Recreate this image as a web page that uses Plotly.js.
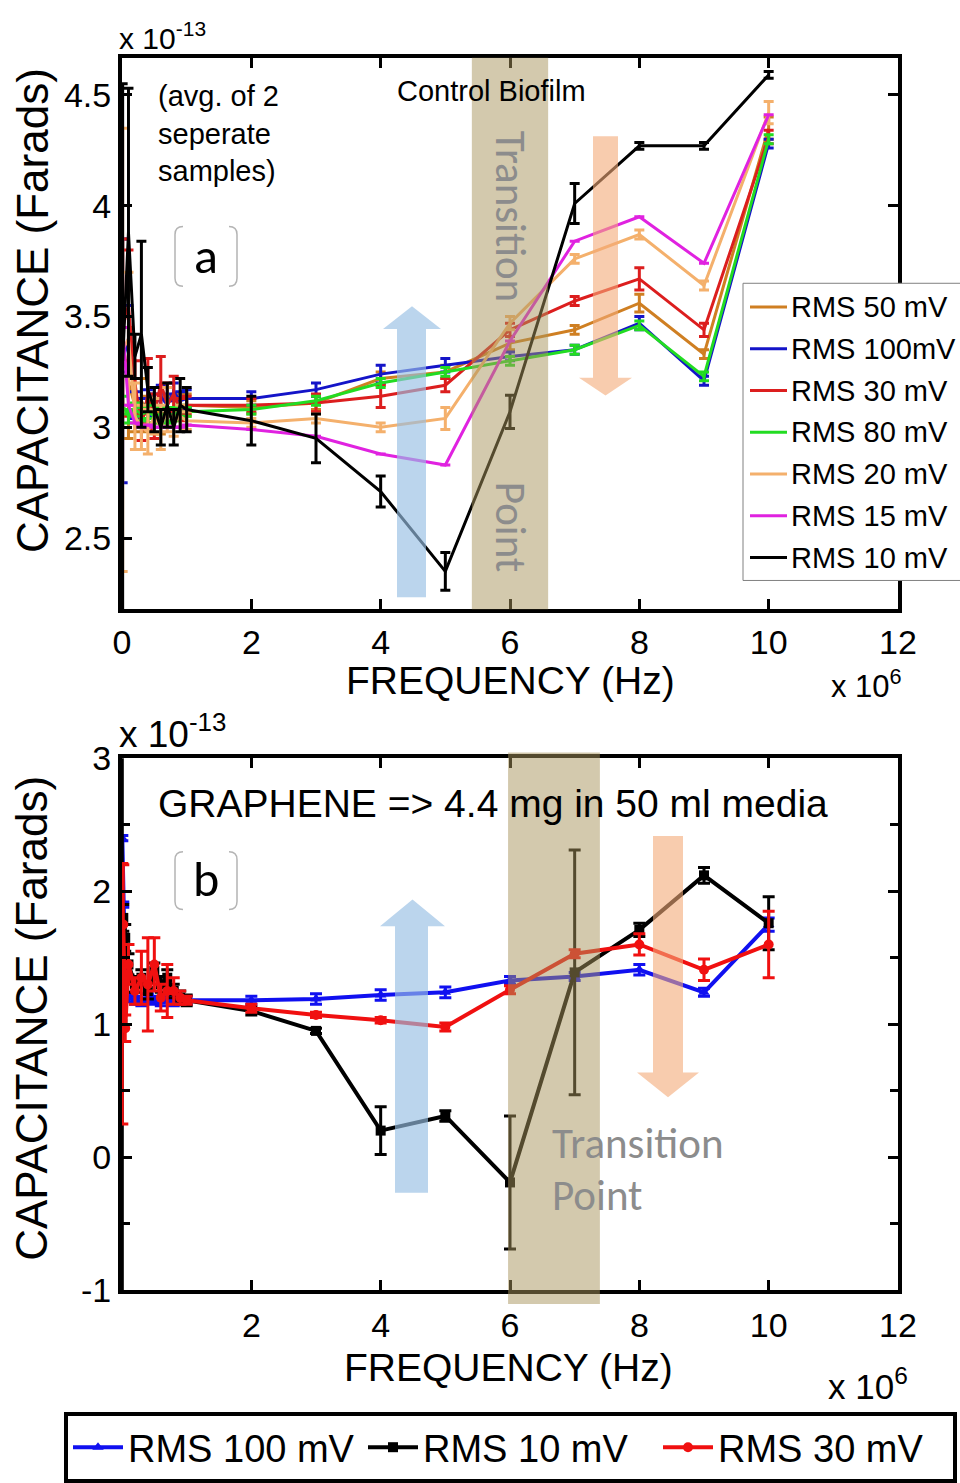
<!DOCTYPE html>
<html><head><meta charset="utf-8">
<script src="https://cdn.plot.ly/plotly-3.0.1.min.js"></script>
<style>html,body{margin:0;padding:0;background:#fff;} #chart{width:960px;height:1483px;}</style>
</head><body><div id="chart"></div>
<script>
// ---------- DATA (frequency in units of 10^6 Hz, capacitance in units of 10^-13 F) ----------
// (a) Control biofilm
const freqA = [0.01, 0.1, 0.2, 0.3, 0.4, 0.5, 0.6, 0.7, 0.8, 0.9, 1, 2, 3, 4, 5, 6, 7, 8, 9, 10];
const namesA = ["RMS 50 mV", "RMS 100mV", "RMS 30 mV", "RMS 80 mV", "RMS 20 mV", "RMS 15 mV", "RMS 10 mV"];
const colorsA = ["#cf7f22", "#1414c8", "#dc1e1e", "#22dc22", "#f4b06c", "#e022e0", "#000000"];
const rms50  = [3.40, 3.20, 3.10, 3.12, 3.06, 3.10, 3.05, 3.08, 3.06, 3.10, 3.10, 3.09, 3.11, 3.22, 3.25, 3.38, 3.44, 3.56, 3.33, 4.35];
const err50  = [0.45, 0.25, 0.12, 0.10, 0.08, 0.08, 0.08, 0.06, 0.06, 0.05, 0.05, 0.03, 0.03, 0.03, 0.03, 0.03, 0.02, 0.04, 0.02, 0.05];
const rms100 = [3.30, 3.40, 3.10, 3.08, 3.12, 3.10, 3.14, 3.10, 3.16, 3.12, 3.13, 3.13, 3.17, 3.24, 3.28, 3.32, 3.35, 3.47, 3.21, 4.28];
const err100 = [0.55, 0.15, 0.06, 0.05, 0.05, 0.05, 0.05, 0.05, 0.04, 0.04, 0.04, 0.03, 0.03, 0.04, 0.03, 0.02, 0.02, 0.03, 0.02, 0.02];
const rms30  = [3.45, 3.55, 3.20, 3.00, 3.15, 3.05, 3.20, 3.10, 3.15, 3.08, 3.10, 3.10, 3.11, 3.14, 3.19, 3.44, 3.57, 3.67, 3.44, 4.31];
const err30  = [0.40, 0.25, 0.10, 0.06, 0.16, 0.10, 0.12, 0.10, 0.08, 0.05, 0.04, 0.03, 0.04, 0.05, 0.03, 0.03, 0.02, 0.05, 0.03, 0.03];
const rms80  = [3.10, 3.05, 3.08, 3.06, 3.07, 3.05, 3.06, 3.05, 3.06, 3.07, 3.07, 3.08, 3.12, 3.20, 3.25, 3.30, 3.35, 3.46, 3.23, 4.30];
const err80  = [0.04, 0.03, 0.03, 0.03, 0.03, 0.03, 0.03, 0.03, 0.03, 0.03, 0.02, 0.02, 0.02, 0.02, 0.02, 0.02, 0.02, 0.02, 0.02, 0.02];
const rms20  = [3.35, 3.40, 3.05, 3.00, 2.98, 3.05, 3.00, 3.08, 3.02, 3.05, 3.03, 3.02, 3.04, 3.00, 3.04, 3.47, 3.76, 3.87, 3.64, 4.42];
const err20  = [1.00, 0.30, 0.15, 0.10, 0.10, 0.08, 0.10, 0.10, 0.06, 0.05, 0.04, 0.02, 0.02, 0.02, 0.05, 0.03, 0.02, 0.02, 0.02, 0.05];
const rms15  = [3.45, 3.10, 3.02, 3.00, 3.01, 3.00, 3.00, 3.00, 3.00, 3.00, 3.01, 2.99, 2.96, 2.88, 2.83, 3.39, 3.84, 3.95, 3.74, 4.41];
const err15  = [0, 0, 0, 0, 0, 0, 0, 0, 0, 0, 0, 0, 0, 0, 0, 0, 0, 0, 0, 0];
const rms10  = [3.30, 3.88, 3.32, 3.42, 3.17, 3.08, 3.00, 3.10, 3.00, 3.10, 3.08, 3.03, 2.95, 2.71, 2.35, 3.07, 4.01, 4.27, 4.27, 4.59];
const err10  = [1.25, 0.65, 0.10, 0.42, 0.10, 0.10, 0.08, 0.10, 0.08, 0.12, 0.10, 0.11, 0.11, 0.07, 0.085, 0.075, 0.09, 0.015, 0.015, 0.015];
const seriesA = [rms50, rms100, rms30, rms80, rms20, rms15, rms10];
const errorsA = [err50, err100, err30, err80, err20, err15, err10];

// (b) Graphene 4.4 mg in 50 ml media
const freqB = [0.005, 0.02, 0.05, 0.1, 0.2, 0.3, 0.4, 0.5, 0.6, 0.7, 0.8, 0.9, 1, 2, 3, 4, 5, 6, 7, 8, 9, 10];
const namesB = ["RMS 100 mV", "RMS 10 mV", "RMS 30 mV"];
const colorsB = ["#1010f0", "#000000", "#f01010"];
const symbolsB = ["triangle-up", "square", "circle"];
const b100 = [2.40, 1.90, 1.35, 1.20, 1.18, 1.17, 1.20, 1.18, 1.17, 1.20, 1.17, 1.18, 1.18, 1.18, 1.19, 1.22, 1.24, 1.33, 1.36, 1.41, 1.24, 1.75];
const e100 = [0.02, 0.02, 0.02, 0.03, 0.03, 0.03, 0.03, 0.03, 0.03, 0.03, 0.03, 0.03, 0.03, 0.03, 0.04, 0.04, 0.04, 0.03, 0.03, 0.04, 0.03, 0.05];
const b10  = [1.00, 1.80, 1.65, 1.45, 1.30, 1.35, 1.25, 1.40, 1.30, 1.35, 1.25, 1.20, 1.18, 1.10, 0.95, 0.20, 0.31, -0.19, 1.39, 1.71, 2.12, 1.76];
const e10  = [2.10, 0.10, 0.10, 0.08, 0.06, 0.06, 0.06, 0.06, 0.06, 0.06, 0.05, 0.05, 0.04, 0.03, 0.02, 0.18, 0.04, 0.50, 0.92, 0.05, 0.06, 0.20];
const b30  = [1.23, 1.75, 0.97, 1.45, 1.25, 1.35, 1.30, 1.45, 1.20, 1.25, 1.25, 1.20, 1.18, 1.12, 1.07, 1.03, 0.98, 1.26, 1.53, 1.60, 1.41, 1.60];
const e30  = [0.98, 0.45, 0.10, 0.15, 0.10, 0.20, 0.35, 0.20, 0.10, 0.20, 0.10, 0.05, 0.03, 0.03, 0.02, 0.02, 0.03, 0.03, 0.03, 0.08, 0.08, 0.25];
const seriesB = [b100, b10, b30];
const errorsB = [e100, e10, e30];

// ---------- LAYOUT HELPERS ----------
const W = 960, H = 1483;
const px = x => x / W;
const py = y => 1 - y / H;
const SANS = "'Liberation Sans', Arial, sans-serif";
const CAL = "Carlito, Lato, 'Open Sans', sans-serif";

const traces = [];
seriesA.forEach((ys, i) => {
  traces.push({
    type: 'scatter', mode: 'lines', x: freqA, y: ys, xaxis: 'x', yaxis: 'y',
    name: namesA[i], showlegend: false,
    line: {color: colorsA[i], width: 3},
    error_y: {type: 'data', array: errorsA[i], visible: true, color: colorsA[i], thickness: 3, width: 5}
  });
});
seriesB.forEach((ys, i) => {
  traces.push({
    type: 'scatter', mode: 'lines+markers', x: freqB, y: ys, xaxis: 'x2', yaxis: 'y2',
    name: namesB[i], showlegend: true,
    line: {color: colorsB[i], width: 4},
    marker: {color: colorsB[i], symbol: symbolsB[i], size: 10},
    error_y: {type: 'data', array: errorsB[i], visible: true, color: colorsB[i], thickness: 3, width: 6}
  });
});

const axisBase = {
  showgrid: false, zeroline: false, showline: true, linecolor: '#000', linewidth: 4,
  mirror: 'ticks', ticks: 'inside', ticklen: 10, tickwidth: 3, tickcolor: '#000',
  tickfont: {family: SANS, size: 34, color: '#000'}
};

function arrowUp(sl, sr, hl, hr, tip, hb, bottom) {
  const cx = (hl + hr) / 2;
  const pts = [[sl, bottom], [sl, hb], [hl, hb], [cx, tip], [hr, hb], [sr, hb], [sr, bottom]];
  return 'M ' + pts.map(p => px(p[0]) + ',' + py(p[1])).join(' L ') + ' Z';
}
function arrowDown(sl, sr, hl, hr, top, hb, tip) {
  const cx = (hl + hr) / 2;
  const pts = [[sl, top], [sr, top], [sr, hb], [hr, hb], [cx, tip], [hl, hb], [sl, hb]];
  return 'M ' + pts.map(p => px(p[0]) + ',' + py(p[1])).join(' L ') + ' Z';
}
function bracketPaths(x0, x1, y0, y1) {
  const r = 8;
  const P = (x, y) => px(x) + ',' + py(y);
  return [
    'M ' + P(x0 + r, y0) + ' Q ' + P(x0, y0) + ' ' + P(x0, y0 + r) + ' L ' + P(x0, y1 - r) + ' Q ' + P(x0, y1) + ' ' + P(x0 + r, y1),
    'M ' + P(x1 - r, y0) + ' Q ' + P(x1, y0) + ' ' + P(x1, y0 + r) + ' L ' + P(x1, y1 - r) + ' Q ' + P(x1, y1) + ' ' + P(x1 - r, y1)
  ];
}

const shapes = [
  // transition bands
  {type: 'rect', xref: 'x', yref: 'paper', x0: 5.41, x1: 6.59, y0: py(613), y1: py(58),
   fillcolor: 'rgba(168,148,92,0.5)', line: {width: 0}, layer: 'above'},
  {type: 'rect', xref: 'x2', yref: 'paper', x0: 5.97, x1: 7.39, y0: py(1312), y1: py(757),
   fillcolor: 'rgba(168,148,92,0.5)', line: {width: 0}, layer: 'above'},
  // arrows
  {type: 'path', xref: 'paper', yref: 'paper', path: arrowUp(397, 426, 383, 441, 308, 331, 601),
   fillcolor: 'rgba(150,190,228,0.65)', line: {width: 0}, layer: 'above'},
  {type: 'path', xref: 'paper', yref: 'paper', path: arrowDown(593, 618, 579, 632, 137, 380, 398),
   fillcolor: 'rgba(244,170,120,0.6)', line: {width: 0}, layer: 'above'},
  {type: 'path', xref: 'paper', yref: 'paper', path: arrowUp(395, 428, 380, 445, 905, 932, 1200),
   fillcolor: 'rgba(150,190,228,0.65)', line: {width: 0}, layer: 'above'},
  {type: 'path', xref: 'paper', yref: 'paper', path: arrowDown(653, 683, 637, 699, 841, 1079, 1104),
   fillcolor: 'rgba(244,170,120,0.6)', line: {width: 0}, layer: 'above'}
];
bracketPaths(175, 237, 228, 288).concat(bracketPaths(175, 237, 857, 915)).forEach(p => {
  shapes.push({type: 'path', xref: 'paper', yref: 'paper', path: p, line: {color: '#b4b4b4', width: 1.5}});
});

// manual legend for panel (a)
const legTop = 309, legStep = 42;
shapes.push({type: 'rect', xref: 'paper', yref: 'paper', x0: px(743), x1: px(965), y0: py(584), y1: py(285),
  fillcolor: '#fff', line: {color: '#808080', width: 1}, layer: 'above'});
const annotations = [];
namesA.forEach((n, i) => {
  const yy = legTop + i * legStep;
  shapes.push({type: 'line', xref: 'paper', yref: 'paper', x0: px(750), x1: px(787), y0: py(yy), y1: py(yy),
    line: {color: colorsA[i], width: 3}, layer: 'above'});
  annotations.push({xref: 'paper', yref: 'paper', x: px(789), y: py(yy), xanchor: 'left', yanchor: 'middle',
    text: n, showarrow: false, font: {family: SANS, size: 29, color: '#000'}});
});

const T = (text, x, y, opts) => Object.assign({xref: 'paper', yref: 'paper', x: px(x), y: py(y), text: text,
  showarrow: false, xanchor: 'center', yanchor: 'middle', font: {family: SANS, size: 34, color: '#000'}}, opts || {});

annotations.push(
  T('x 10<sup>-13</sup>', 117, 57, {xanchor: 'left', yanchor: 'bottom', font: {family: SANS, size: 30, color: '#000'}}),
  T('(avg. of 2<br>seperate<br>samples)', 156, 78, {xanchor: 'left', yanchor: 'top', align: 'left', font: {family: SANS, size: 29, color: '#000'}}),
  T('Control Biofilm', 491, 92, {font: {family: SANS, size: 29, color: '#000'}}),
  T('a', 206, 257, {font: {family: CAL, size: 50, color: '#000'}}),
  T('Transition', 510, 218, {textangle: 90, font: {family: CAL, size: 43, color: '#8c8c8c'}}),
  T('Point', 510, 530, {textangle: 90, font: {family: CAL, size: 43, color: '#8c8c8c'}}),
  T('FREQUENCY (Hz)', 510, 685, {font: {family: SANS, size: 39, color: '#000'}}),
  T('x 10<sup>6</sup>', 866, 688, {font: {family: SANS, size: 31, color: '#000'}}),
  T('CAPACITANCE (Farads)', 32, 313, {textangle: -90, font: {family: SANS, size: 44, color: '#000'}}),
  T('x 10<sup>-13</sup>', 117, 762, {xanchor: 'left', yanchor: 'bottom', font: {family: SANS, size: 37, color: '#000'}}),
  T('GRAPHENE =&gt; 4.4 mg in 50 ml media', 156, 808, {xanchor: 'left', font: {family: SANS, size: 39, color: '#000'}}),
  T('b', 206, 884, {font: {family: CAL, size: 50, color: '#000'}}),
  T('Transition', 550, 1150, {xanchor: 'left', font: {family: CAL, size: 43, color: '#8c8c8c'}}),
  T('Point', 550, 1203, {xanchor: 'left', font: {family: CAL, size: 43, color: '#8c8c8c'}}),
  T('FREQUENCY (Hz)', 508, 1376, {font: {family: SANS, size: 39, color: '#000'}}),
  T('x 10<sup>6</sup>', 868, 1392, {font: {family: SANS, size: 35, color: '#000'}}),
  T('CAPACITANCE (Farads)', 32, 1025, {textangle: -90, font: {family: SANS, size: 44, color: '#000'}})
);

const layout = {
  width: W, height: H, margin: {l: 0, r: 0, t: 0, b: 0},
  paper_bgcolor: '#fff', plot_bgcolor: '#fff',
  xaxis: Object.assign({}, axisBase, {domain: [px(122), px(898)], range: [0, 12], anchor: 'y',
    tickvals: [0, 2, 4, 6, 8, 10, 12], ticktext: ['0', '2', '4', '6', '8', '10', '12']}),
  yaxis: Object.assign({}, axisBase, {domain: [py(613), py(58)], range: [2.179, 4.668], anchor: 'x',
    tickvals: [2.5, 3, 3.5, 4, 4.5], ticktext: ['2.5', '3', '3.5', '4', '4.5']}),
  xaxis2: Object.assign({}, axisBase, {domain: [px(122), px(898)], range: [0, 12], anchor: 'y2',
    tickvals: [0, 2, 4, 6, 8, 10, 12], ticktext: ['', '2', '4', '6', '8', '10', '12'], ticklabelstandoff: 2}),
  yaxis2: Object.assign({}, axisBase, {domain: [py(1298), py(763)], range: [-1, 3], anchor: 'x2',
    tickvals: [-1, 0, 1, 2, 3], ticktext: ['-1', '0', '1', '2', '3'],
    minor: {dtick: 0.5, ticks: 'inside', ticklen: 8, tickwidth: 3, tickcolor: '#000'}}),
  showlegend: true,
  legend: {orientation: 'h', x: px(64), y: py(1421), xanchor: 'left', yanchor: 'top',
    bordercolor: '#000', borderwidth: 4, bgcolor: '#fff', itemwidth: 50,
    font: {family: SANS, size: 38, color: '#000'}, entrywidth: 230},
  shapes: shapes,
  annotations: annotations
};

Plotly.newPlot('chart', traces, layout, {displayModeBar: false, staticPlot: true});
</script>
</body></html>
